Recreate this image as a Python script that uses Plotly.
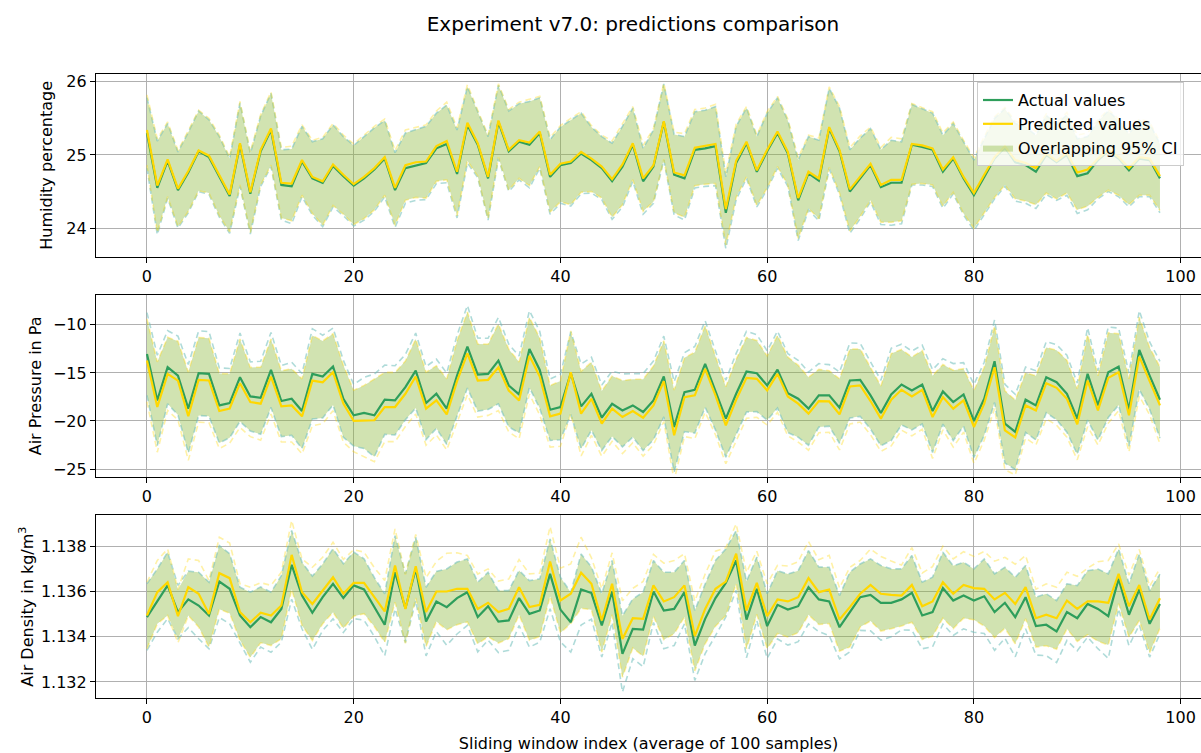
import plotly.graph_objects as go

# ---------------- data ----------------
idx = list(range(99))

hum_actual = [25.30, 24.55, 24.92, 24.52, 24.76, 25.05, 24.97, 24.70, 24.44, 25.14,
              24.47, 25.05, 25.34, 24.59, 24.57, 24.91, 24.68, 24.62, 24.85, 24.71,
              24.58, 24.68, 24.80, 24.95, 24.52, 24.82, 24.86, 24.89, 25.09, 25.15,
              24.74, 25.41, 25.14, 24.68, 25.45, 25.05, 25.18, 25.14, 25.30, 24.70,
              24.86, 24.89, 25.02, 24.93, 24.82, 24.64, 24.84, 25.14, 24.64, 24.84,
              25.45, 24.73, 24.68, 25.07, 25.09, 25.12, 24.21, 24.89, 25.16, 24.77,
              25.05, 25.30, 25.02, 24.38, 24.75, 24.65, 25.36, 25.05, 24.50, 24.68,
              24.86, 24.56, 24.62, 24.62, 25.14, 25.11, 25.07, 24.77, 24.95, 24.68,
              24.45, 24.70, 24.95, 25.10, 24.90, 24.86, 24.77, 25.00, 24.90, 25.00,
              24.71, 24.75, 24.93, 25.05, 24.95, 24.79, 24.95, 24.93, 24.68]
hum_pred = [25.34, 24.58, 24.94, 24.54, 24.78, 25.06, 24.99, 24.72, 24.46, 25.16,
            24.49, 25.07, 25.36, 24.62, 24.61, 24.93, 24.70, 24.64, 24.87, 24.73,
            24.60, 24.70, 24.82, 24.97, 24.55, 24.86, 24.90, 24.91, 25.12, 25.19,
            24.77, 25.44, 25.16, 24.70, 25.47, 25.07, 25.20, 25.17, 25.32, 24.73,
            24.88, 24.91, 25.04, 24.95, 24.84, 24.67, 24.87, 25.16, 24.68, 24.86,
            25.46, 24.76, 24.72, 25.10, 25.12, 25.15, 24.26, 24.92, 25.18, 24.79,
            25.07, 25.32, 25.04, 24.41, 24.77, 24.68, 25.38, 25.07, 24.53, 24.71,
            24.88, 24.59, 24.66, 24.66, 25.15, 25.13, 25.09, 24.80, 24.97, 24.70,
            24.48, 24.73, 24.97, 25.12, 24.93, 24.89, 24.82, 25.02, 24.92, 25.03,
            24.76, 24.80, 24.95, 25.07, 24.97, 24.82, 24.97, 24.95, 24.71]
hum_ci = [0.48, 0.64, 0.51, 0.52, 0.55, 0.55, 0.51, 0.55, 0.51, 0.57,
          0.55, 0.48, 0.50, 0.48, 0.51, 0.48, 0.50, 0.60, 0.56, 0.54,
          0.55, 0.57, 0.57, 0.52, 0.51, 0.48, 0.48, 0.50, 0.48, 0.53,
          0.60, 0.52, 0.45, 0.57, 0.50, 0.55, 0.52, 0.59, 0.48, 0.51,
          0.52, 0.59, 0.55, 0.45, 0.43, 0.52, 0.55, 0.50, 0.45, 0.50,
          0.52, 0.55, 0.57, 0.52, 0.52, 0.54, 0.49, 0.50, 0.48, 0.48,
          0.52, 0.48, 0.45, 0.55, 0.50, 0.55, 0.55, 0.59, 0.57, 0.55,
          0.50, 0.51, 0.58, 0.56, 0.55, 0.52, 0.50, 0.50, 0.48, 0.50,
          0.48, 0.52, 0.55, 0.53, 0.53, 0.52, 0.50, 0.54, 0.52, 0.55,
          0.51, 0.50, 0.53, 0.55, 0.52, 0.50, 0.52, 0.50, 0.47]

pres_actual = [-13.03, -17.86, -14.41, -15.28, -18.72, -15.03, -15.10, -18.38, -18.14, -15.45,
               -17.45, -17.59, -14.69, -17.93, -17.69, -18.97, -15.10, -15.38, -14.34, -17.69,
               -19.41, -19.17, -19.41, -17.79, -17.86, -16.48, -14.76, -18.14, -17.17, -18.72,
               -15.28, -12.28, -15.17, -15.10, -13.72, -16.31, -17.24, -12.52, -14.69, -18.83,
               -18.55, -15.03, -18.48, -17.17, -19.66, -18.21, -18.90, -18.38, -19.07, -17.86,
               -15.38, -20.62, -17.00, -16.76, -14.07, -16.83, -19.76, -17.17, -14.86, -15.03,
               -16.31, -14.66, -17.10, -17.69, -18.72, -17.34, -17.34, -18.62, -15.79, -15.72,
               -17.34, -19.17, -17.24, -16.21, -16.83, -16.21, -18.97, -16.93, -18.03, -17.24,
               -20.00, -17.69, -13.79, -20.28, -21.14, -17.79, -18.38, -15.45, -15.97, -17.17,
               -19.76, -15.10, -18.38, -14.93, -14.34, -18.83, -12.62, -15.28, -17.79]
pres_pred = [-13.70, -18.55, -15.10, -15.80, -19.50, -15.72, -15.79, -18.97, -18.70, -16.07,
             -18.03, -18.20, -15.38, -18.48, -18.38, -19.52, -15.80, -15.97, -14.93, -18.20,
             -20.00, -20.00, -19.93, -18.55, -18.55, -17.17, -15.38, -18.72, -17.86, -19.31,
             -15.86, -12.97, -15.79, -15.72, -14.41, -16.83, -17.86, -13.21, -15.38, -19.52,
             -19.24, -14.93, -19.24, -17.69, -20.28, -18.72, -19.59, -18.97, -19.66, -18.38,
             -15.86, -21.48, -17.52, -17.34, -14.59, -17.34, -20.45, -17.79, -15.52, -15.62,
             -16.83, -15.10, -17.45, -18.20, -19.24, -17.93, -17.97, -19.31, -16.41, -16.31,
             -17.93, -19.76, -17.79, -16.76, -17.45, -16.76, -19.59, -17.52, -18.72, -17.86,
             -20.62, -18.20, -14.41, -20.97, -21.72, -18.38, -18.90, -16.07, -16.55, -17.69,
             -20.34, -15.79, -18.90, -15.52, -14.93, -19.41, -13.31, -15.86, -18.38]
pres_ci = [4.3, 4.7, 3.8, 4.1, 4.6, 4.4, 4.4, 3.9, 3.6, 4.6,
           3.6, 3.8, 3.9, 3.7, 3.8, 3.9, 4.7, 4.3, 4.0, 4.0,
           3.2, 3.7, 4.3, 3.6, 3.6, 3.4, 3.9, 3.8, 3.6, 3.7,
           4.2, 4.3, 3.8, 3.7, 4.5, 4.3, 4.0, 4.0, 4.0, 3.2,
           3.4, 4.3, 4.4, 3.8, 3.4, 3.4, 3.8, 3.3, 4.0, 4.1,
           4.2, 4.7, 4.1, 4.5, 4.5, 4.1, 4.0, 4.2, 4.2, 4.0,
           3.6, 4.0, 4.1, 4.0, 3.8, 3.3, 3.2, 3.7, 3.9, 3.8,
           3.5, 3.4, 4.8, 4.2, 4.1, 4.1, 4.3, 3.4, 4.0, 3.3,
           3.8, 3.8, 4.3, 4.1, 3.9, 3.4, 3.6, 3.7, 3.9, 4.0,
           3.7, 4.8, 3.6, 4.7, 4.0, 3.8, 4.1, 3.5, 4.0]

dens_actual = [1.13487, 1.13560, 1.13627, 1.13509, 1.13565, 1.13538, 1.13494, 1.13644, 1.13612, 1.13494,
               1.13442, 1.13487, 1.13464, 1.13523, 1.13718, 1.13582, 1.13506, 1.13575, 1.13634, 1.13571,
               1.13627, 1.13609, 1.13531, 1.13453, 1.13685, 1.13526, 1.13700, 1.13467, 1.13556, 1.13531,
               1.13571, 1.13597, 1.13487, 1.13535, 1.13467, 1.13472, 1.13571, 1.13501, 1.13516, 1.13678,
               1.13520, 1.13464, 1.13609, 1.13593, 1.13450, 1.13600, 1.13324, 1.13435, 1.13432, 1.13600,
               1.13516, 1.13523, 1.13597, 1.13361, 1.13479, 1.13571, 1.13638, 1.13737, 1.13476, 1.13612,
               1.13447, 1.13541, 1.13520, 1.13535, 1.13619, 1.13565, 1.13556, 1.13442, 1.13509, 1.13575,
               1.13585, 1.13550, 1.13550, 1.13565, 1.13594, 1.13494, 1.13509, 1.13615, 1.13560, 1.13582,
               1.13560, 1.13579, 1.13509, 1.13550, 1.13487, 1.13575, 1.13447, 1.13453, 1.13423, 1.13509,
               1.13482, 1.13545, 1.13523, 1.13491, 1.13656, 1.13497, 1.13609, 1.13457, 1.13545]
dens_pred = [1.13494, 1.13597, 1.13641, 1.13491, 1.13619, 1.13590, 1.13501, 1.13681, 1.13659, 1.13509,
             1.13464, 1.13506, 1.13494, 1.13538, 1.13762, 1.13597, 1.13545, 1.13604, 1.13663, 1.13590,
             1.13638, 1.13638, 1.13575, 1.13512, 1.13715, 1.13523, 1.13712, 1.13509, 1.13600, 1.13600,
             1.13612, 1.13612, 1.13523, 1.13550, 1.13509, 1.13523, 1.13619, 1.13531, 1.13541, 1.13733,
             1.13560, 1.13590, 1.13683, 1.13634, 1.13472, 1.13634, 1.13390, 1.13482, 1.13479, 1.13627,
             1.13556, 1.13575, 1.13627, 1.13403, 1.13523, 1.13612, 1.13644, 1.13767, 1.13516, 1.13638,
             1.13491, 1.13565, 1.13556, 1.13575, 1.13659, 1.13597, 1.13609, 1.13476, 1.13531, 1.13590,
             1.13629, 1.13590, 1.13585, 1.13582, 1.13629, 1.13535, 1.13556, 1.13641, 1.13590, 1.13629,
             1.13615, 1.13612, 1.13565, 1.13594, 1.13545, 1.13619, 1.13482, 1.13497, 1.13482, 1.13560,
             1.13523, 1.13556, 1.13556, 1.13550, 1.13678, 1.13535, 1.13629, 1.13476, 1.13570]
dens_ci = [0.00147, 0.00140, 0.00147, 0.00118, 0.00125, 0.00147, 0.00147, 0.00159, 0.00155, 0.00125,
           0.00155, 0.00133, 0.00133, 0.00147, 0.00152, 0.00147, 0.00162, 0.00147, 0.00155, 0.00152,
           0.00147, 0.00136, 0.00130, 0.00137, 0.00162, 0.00152, 0.00140, 0.00152, 0.00133, 0.00169,
           0.00159, 0.00147, 0.00154, 0.00150, 0.00137, 0.00132, 0.00122, 0.00147, 0.00140, 0.00154,
           0.00143, 0.00132, 0.00157, 0.00115, 0.00140, 0.00137, 0.00169, 0.00132, 0.00165, 0.00137,
           0.00169, 0.00162, 0.00140, 0.00154, 0.00154, 0.00166, 0.00150, 0.00132, 0.00169, 0.00140,
           0.00143, 0.00151, 0.00157, 0.00157, 0.00162, 0.00143, 0.00151, 0.00140, 0.00176, 0.00147,
           0.00159, 0.00165, 0.00150, 0.00135, 0.00165, 0.00147, 0.00154, 0.00159, 0.00154, 0.00147,
           0.00140, 0.00165, 0.00169, 0.00157, 0.00176, 0.00140, 0.00128, 0.00137, 0.00137, 0.00125,
           0.00144, 0.00147, 0.00176, 0.00187, 0.00132, 0.00137, 0.00157, 0.00147, 0.00132]

y_titles = ["Humidity percentage", "Air Pressure in Pa", "Air Density in kg/m<sup>3</sup>"]
y_ticks = [[24, 25, 26], [-25, -20, -15, -10], [1.132, 1.134, 1.136, 1.138]]
y_ranges = [[23.61, 26.105], [-25.8, -6.9], [1.13129, 1.13937]]
x_ticks = [0, 20, 40, 60, 80, 100]

# ---------------- styling ----------------
FONT = "DejaVu Sans"
C_ACT = "#2e9e5b"
C_PRED = "#ffd700"
C_FILL = "rgba(140,185,60,0.40)"
C_DASH_A = "rgba(110,190,185,0.55)"
C_DASH_P = "rgba(255,215,0,0.35)"
GRID = "#b0b0b0"

# plot area: l=96, r=0, t=74, b=55 in a 1201x753 figure
domains = [[0.7072, 1.0], [0.3546, 0.6458], [0.0, 0.2928]]

fig = go.Figure()
panels = [(hum_actual, hum_pred, hum_ci), (pres_actual, pres_pred, pres_ci),
          (dens_actual, dens_pred, dens_ci)]

for k, (act, pred, ci) in enumerate(panels):
    xa = "x" if k == 0 else f"x{k+1}"
    ya = "y" if k == 0 else f"y{k+1}"
    first = (k == 0)
    up_a = [a + w for a, w in zip(act, ci)]
    lo_a = [a - w for a, w in zip(act, ci)]
    up_p = [p + w for p, w in zip(pred, ci)]
    lo_p = [p - w for p, w in zip(pred, ci)]
    fill_lo = [max(a, b) for a, b in zip(lo_a, lo_p)]
    fill_hi = [min(a, b) for a, b in zip(up_a, up_p)]
    fig.add_trace(go.Scatter(x=idx, y=fill_lo, mode="lines", line=dict(width=0),
                             showlegend=False, hoverinfo="skip", xaxis=xa, yaxis=ya))
    fig.add_trace(go.Scatter(x=idx, y=fill_hi, mode="lines", line=dict(width=0),
                             fill="tonexty", fillcolor=C_FILL, name="Overlapping 95% CI",
                             showlegend=first, legendrank=3, xaxis=xa, yaxis=ya))
    for yy, col in ((up_a, C_DASH_A), (lo_a, C_DASH_A), (up_p, C_DASH_P), (lo_p, C_DASH_P)):
        fig.add_trace(go.Scatter(x=idx, y=yy, mode="lines",
                                 line=dict(color=col, width=1.6, dash="6px,4px"),
                                 showlegend=False, hoverinfo="skip", xaxis=xa, yaxis=ya))
    fig.add_trace(go.Scatter(x=idx, y=act, mode="lines", line=dict(color=C_ACT, width=2.2),
                             name="Actual values", showlegend=first, legendrank=1,
                             xaxis=xa, yaxis=ya))
    fig.add_trace(go.Scatter(x=idx, y=pred, mode="lines", line=dict(color=C_PRED, width=2.2),
                             name="Predicted values", showlegend=first, legendrank=2,
                             xaxis=xa, yaxis=ya))

layout = dict(
    width=1201, height=753,
    margin=dict(l=96, r=0, t=74, b=55, autoexpand=False),
    paper_bgcolor="white", plot_bgcolor="white",
    font=dict(family=FONT, size=16, color="black"),
    title=dict(text="Experiment v7.0: predictions comparison", x=633 / 1201, xanchor="center",
               y=1 - 24 / 753, yanchor="middle", xref="container", yref="container",
               font=dict(family=FONT, size=20, color="black")),
    legend=dict(x=(977 - 96) / 1105, y=0.987, xanchor="left", yanchor="top",
                traceorder="normal",
                bgcolor="rgba(255,255,255,0.8)", bordercolor="#cccccc", borderwidth=1,
                font=dict(family=FONT, size=16, color="black")),
    showlegend=True,
)
standoffs = [9, 7, 3]
for k in range(3):
    xk = "xaxis" if k == 0 else f"xaxis{k+1}"
    yk = "yaxis" if k == 0 else f"yaxis{k+1}"
    ya = "y" if k == 0 else f"y{k+1}"
    xa = "x" if k == 0 else f"x{k+1}"
    layout[xk] = dict(domain=[0, 1], anchor=ya, range=[-4.93, 101.97], tickvals=x_ticks,
                      showgrid=True, gridcolor=GRID, gridwidth=1, zeroline=False,
                      showline=True, linecolor="black", linewidth=1.2, mirror=True,
                      ticks="outside", ticklen=5, tickcolor="black", automargin=False,
                      tickfont=dict(family=FONT, size=16, color="black"))
    layout[yk] = dict(domain=domains[k], anchor=xa, range=y_ranges[k], tickvals=y_ticks[k],
                      showgrid=True, gridcolor=GRID, gridwidth=1, zeroline=False,
                      showline=True, linecolor="black", linewidth=1.2, mirror=False,
                      ticks="outside", ticklen=5, tickcolor="black", automargin=False,
                      tickformat=".3f" if k == 2 else None,
                      tickfont=dict(family=FONT, size=16, color="black"),
                      title=dict(text=y_titles[k], standoff=standoffs[k],
                                 font=dict(family=FONT, size=16, color="black")))
layout["xaxis3"]["title"] = dict(text="Sliding window index (average of 100 samples)",
                                 font=dict(family=FONT, size=16, color="black"))
fig.update_layout(**layout)

fig.write_html("out.html", config={"displayModeBar": False},
               post_script="document.body.style.margin='0px';")
